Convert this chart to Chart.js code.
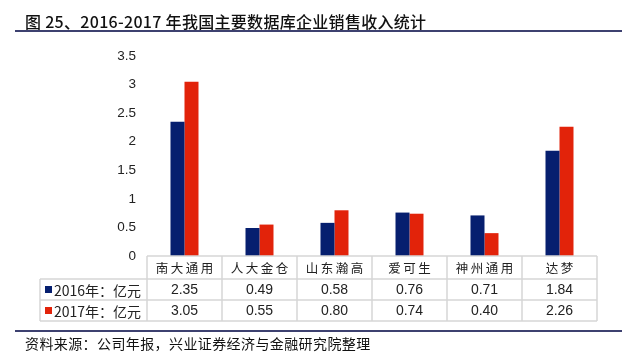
<!DOCTYPE html>
<html><head><meta charset="utf-8">
<script src="https://cdn.jsdelivr.net/npm/chart.js@4"></script>
<style>
html,body{margin:0;padding:0;background:#fff;}
#wrap{position:relative;width:624px;height:357px;overflow:hidden;background:#fff;}
#c{position:absolute;left:0;top:0;}
.txt{position:absolute;white-space:nowrap;color:#111;font-family:"Noto Sans CJK SC","Noto Sans",sans-serif;}
#title{left:25px;top:9px;font-size:16px;font-weight:500;letter-spacing:0.3px;}
#source{left:25px;top:333px;font-size:14px;letter-spacing:0.4px;}
.rule{position:absolute;left:15px;width:607px;height:2px;background:#3d4170;}
</style>
</head><body>
<div id="wrap">
<canvas id="c" width="624" height="357"></canvas>
<div class="txt" id="title">图 25、2016-2017 年我国主要数据库企业销售收入统计</div>
<div class="rule" style="top:30px"></div>
<div class="rule" style="top:330px"></div>
<div class="txt" id="source">资料来源：公司年报，兴业证券经济与金融研究院整理</div>
</div>
<script>
const categories = ['南大通用','人大金仓','山东瀚高','爱可生','神州通用','达梦'];
const sales2016 = [2.35, 0.49, 0.58, 0.76, 0.71, 1.84];
const sales2017 = [3.05, 0.55, 0.80, 0.74, 0.40, 2.26];
const seriesNames = ['2016年：亿元','2017年：亿元'];
const yTicks = [0, 0.5, 1, 1.5, 2, 2.5, 3, 3.5];
const colors = ['#061f6f', '#e2230a'];

const tablePlugin = {
  id: 'dataTable',
  afterDraw(chart) {
    const ctx = chart.ctx;
    const xs = chart.scales.x;
    const n = categories.length;
    const left = chart.chartArea.left, right = chart.chartArea.right;
    const colW = (right - left) / n;
    const y0 = chart.chartArea.bottom, y1 = y0 + 23, y2 = y1 + 21, y3 = y2 + 21;
    const tableLeft = 40;
    ctx.save();
    ctx.strokeStyle = '#d6d6d6';
    ctx.lineWidth = 1.5;
    ctx.beginPath();
    ctx.moveTo(left, y0); ctx.lineTo(right, y0);
    [y1, y2, y3].forEach(y => { ctx.moveTo(tableLeft, y); ctx.lineTo(right, y); });
    for (let i = 0; i <= n; i++) {
      const x = left + i * colW;
      ctx.moveTo(x, y0); ctx.lineTo(x, y3);
    }
    ctx.moveTo(tableLeft, y1); ctx.lineTo(tableLeft, y3);
    ctx.stroke();

    ctx.fillStyle = '#222';
    ctx.textBaseline = 'middle';
    ctx.font = '12.5px "Noto Sans CJK SC"';
    const sp = 2.5;
    categories.forEach((c, i) => {
      const cx = xs.getPixelForValue(i);
      const chars = Array.from(c);
      const widths = chars.map(ch => ctx.measureText(ch).width);
      const total = widths.reduce((a, b) => a + b, 0) + sp * (chars.length - 1);
      let x = cx - total / 2;
      ctx.textAlign = 'left';
      chars.forEach((ch, k) => { ctx.fillText(ch, x, (y0 + y1) / 2 + 1); x += widths[k] + sp; });
    });
    const rows = [sales2016, sales2017];
    const rowMid = [(y1 + y2) / 2, (y2 + y3) / 2];
    ctx.font = '14px "Liberation Sans"';
    ctx.textAlign = 'center';
    rows.forEach((arr, r) => {
      arr.forEach((v, i) => {
        ctx.fillText(v.toFixed(2), xs.getPixelForValue(i), rowMid[r] + 1);
      });
    });
    seriesNames.forEach((name, r) => {
      ctx.fillStyle = colors[r];
      ctx.fillRect(45, rowMid[r] - 3.5, 7, 7);
      ctx.fillStyle = '#222';
      ctx.textAlign = 'left';
      ctx.font = '14px "Noto Sans CJK SC"';
      ctx.fillText(name, 54, rowMid[r] + 1);
    });
    ctx.restore();
  }
};

new Chart(document.getElementById('c'), {
  type: 'bar',
  data: {
    labels: categories,
    datasets: [
      { label: seriesNames[0], data: sales2016, backgroundColor: colors[0], categoryPercentage: 0.3733, barPercentage: 1 },
      { label: seriesNames[1], data: sales2017, backgroundColor: colors[1], categoryPercentage: 0.3733, barPercentage: 1 }
    ]
  },
  options: {
    responsive: false,
    animation: false,
    devicePixelRatio: 1,
    layout: { padding: { left: 0, top: 56, right: 27, bottom: 101 } },
    plugins: { legend: { display: false }, tooltip: { enabled: false }, title: { display: false } },
    scales: {
      x: { display: false, grid: { display: false } },
      y: {
        min: 0, max: 3.5,
        afterFit(scale) { scale.width = 147; },
        afterBuildTicks(scale) { scale.ticks = yTicks.map(v => ({ value: v })); },
        grid: { display: false, drawTicks: false },
        border: { display: false },
        ticks: {
          padding: 11,
          color: '#222',
          font: { family: 'Liberation Sans', size: 13.5 },
          callback: v => String(v)
        }
      }
    }
  },
  plugins: [tablePlugin]
});
</script>
</body></html>
